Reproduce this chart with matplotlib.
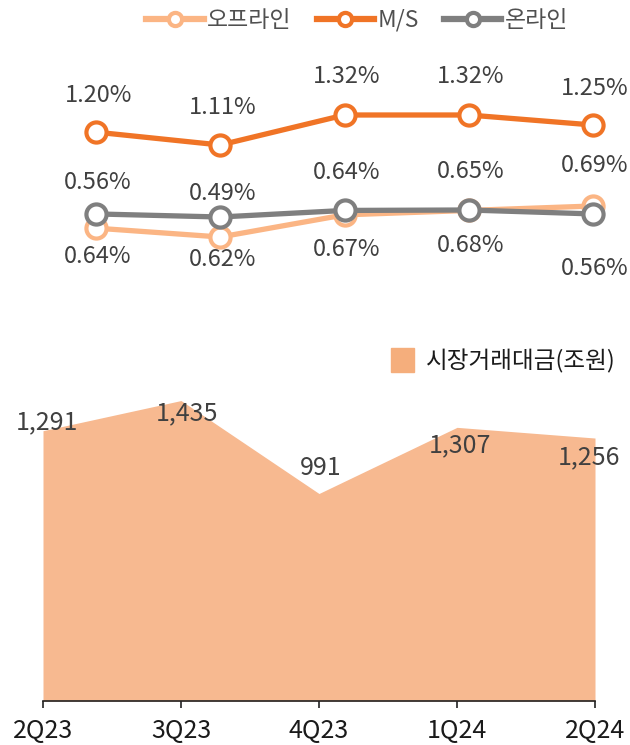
import matplotlib
matplotlib.use("Agg")
import matplotlib.pyplot as plt
from matplotlib.lines import Line2D
from matplotlib.patches import Patch

plt.rcParams['font.family'] = ['Noto Sans CJK KR', 'DejaVu Sans']

# data
quarters = ['2Q23', '3Q23', '4Q23', '1Q24', '2Q24']
offline = [0.64, 0.62, 0.67, 0.68, 0.69]
ms_share = [1.20, 1.11, 1.32, 1.32, 1.25]
online = [0.56, 0.49, 0.64, 0.65, 0.56]
trade_value = [1291, 1435, 991, 1307, 1256]

c_off = '#FBB584'
c_ms = '#F07426'
c_on = '#7F7F7F'
c_area = '#F7B990'
c_text = '#404040'

W, H = 630, 745
fig = plt.figure(figsize=(W / 100, H / 100), dpi=100)


def px_ylim(ax, v1, p1, v2, p2, top, bottom):
    # set ylim so that value v1 sits at pixel row p1 and v2 at p2
    k = (p1 - p2) / (v2 - v1)
    ax.set_ylim(v1 - (bottom - p1) / k, v1 + (p1 - top) / k)


# ---- top line chart ----
top_px, bot_px = 100, 270
x0_px, step_px = 96, 124.25
rect = [0, 1 - bot_px / H, 1, (bot_px - top_px) / H]
ax_ms = fig.add_axes(rect)
ax_off = fig.add_axes(rect, sharex=ax_ms)
ax_on = fig.add_axes(rect, sharex=ax_ms)
xs = list(range(len(quarters)))
ax_ms.set_xlim(-x0_px / step_px, (W - x0_px) / step_px)

px_ylim(ax_off, 0.62, 237, 0.69, 206, top_px, bot_px)
px_ylim(ax_ms, 1.11, 145, 1.32, 115, top_px, bot_px)
px_ylim(ax_on, 0.49, 217, 0.65, 210, top_px, bot_px)

mk = dict(marker='o', markersize=14.5, markerfacecolor='white', markeredgewidth=3.0,
          linewidth=3.8, solid_capstyle='round')
ax_off.plot(xs, offline, color=c_off, zorder=2, **mk)
ax_ms.plot(xs, ms_share, color=c_ms, zorder=2, **mk)
ax_on.plot(xs, online, color=c_on, zorder=3, **mk)

# label offsets in px (positive = up)
off_dy = [-28, -23, -35, -35, 40]
ms_dy = [37, 37, 38, 38, 36]
on_dy = [31, 23, 38, 38, -55]
fs = 17
for ax, vals, dys in [(ax_off, offline, off_dy), (ax_ms, ms_share, ms_dy), (ax_on, online, on_dy)]:
    for x, v, dy in zip(xs, vals, dys):
        ax.annotate(f'{v:.2f}%', (x, v), xytext=(1.5, dy * 0.72), textcoords='offset points',
                    ha='center', va='center', fontsize=fs, color=c_text)

for ax in (ax_ms, ax_off, ax_on):
    ax.axis('off')
    ax.patch.set_alpha(0)

handles = [Line2D([], [], color=c, marker='o', markersize=9.5, markerfacecolor='white',
                  markeredgewidth=3.0, linewidth=4.5) for c in (c_off, c_ms, c_on)]
fig.legend(handles, ['오프라인', 'M/S', '온라인'], loc='upper center', ncol=3,
           bbox_to_anchor=(0.567, 1.016), frameon=False, fontsize=16.5,
           handlelength=2.5, handletextpad=0.15, columnspacing=1.1, labelcolor='#505050')

# ---- bottom area chart ----
left_px, right_px, base_px, atop_px = 43, 595, 701, 366
ax = fig.add_axes([left_px / W, 1 - base_px / H, (right_px - left_px) / W, (base_px - atop_px) / H])
ax.fill_between(xs, trade_value, 0, color=c_area, linewidth=0, label='시장거래대금(조원)')
ax.set_xlim(0, len(quarters) - 1)
ax.set_ylim(0, 1600)
ax.patch.set_alpha(0)
for s in ('left', 'right', 'top'):
    ax.spines[s].set_visible(False)
ax.spines['bottom'].set_color('#222222')
ax.spines['bottom'].set_linewidth(1.2)
ax.set_yticks([])
ax.set_xticks(xs)
ax.set_xticklabels(quarters, fontsize=18, color='#1a1a1a')
ax.tick_params(axis='x', direction='out', length=5, width=1.2, color='#222222', pad=7)

area_dx = [4, 6, 2, 3, -6]
area_dy = [8, -13, 26, -18, -19]
for x, v, dx, dy in zip(xs, trade_value, area_dx, area_dy):
    ax.annotate(f'{v:,}', (x, v), xytext=(dx * 0.72, dy * 0.72), textcoords='offset points',
                ha='center', va='center', fontsize=18, color=c_text, clip_on=False)

ax.legend(handles=[Patch(color='#F5AE7C')], labels=['시장거래대금(조원)'],
          loc='upper right', bbox_to_anchor=(637 / W, 1 - 327 / H), bbox_transform=fig.transFigure,
          frameon=False, fontsize=17, handlelength=1.0, handleheight=1.2, handletextpad=0.5,
          labelcolor='#1a1a1a')

fig.savefig('out.png', dpi=100)
